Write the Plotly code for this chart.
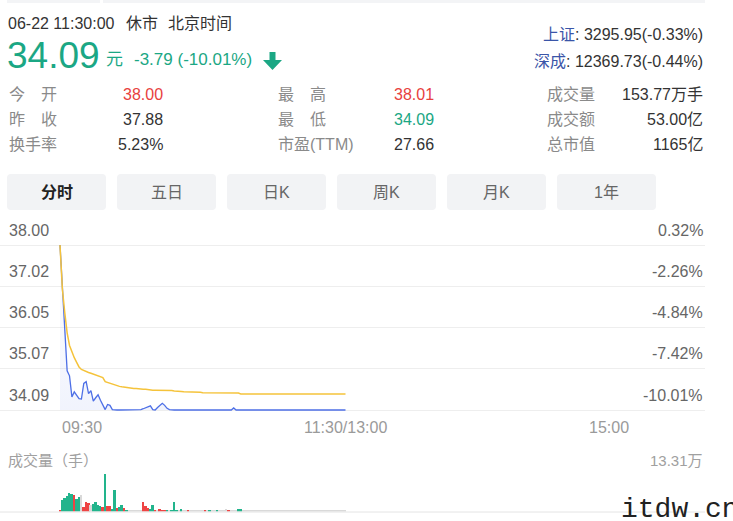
import plotly.graph_objects as go

W, H = 733, 521
def X(px): return px / W
def Y(py): return 1 - py / H

# ---------------- data ----------------
minutes = list(range(121))  # minutes after 09:30 (morning session)

price = [
    38.00, 36.90, 35.80, 35.02, 34.90, 34.40, 34.52, 34.45, 34.36, 34.35,
    34.72, 34.76, 34.48, 34.55, 34.30, 34.38, 34.45, 34.32, 34.22, 34.10,
    34.22, 34.20, 34.10, 34.09, 34.09, 34.09, 34.09, 34.09, 34.09, 34.09,
    34.09, 34.09, 34.09, 34.09, 34.10, 34.12, 34.14, 34.16, 34.19, 34.10,
    34.09, 34.15, 34.20, 34.25, 34.20, 34.13, 34.10, 34.09, 34.09, 34.09,
    34.09, 34.09, 34.09, 34.09, 34.09, 34.09, 34.09, 34.09, 34.09, 34.09,
    34.09, 34.09, 34.09, 34.09, 34.09, 34.09, 34.09, 34.09, 34.09, 34.09,
    34.09, 34.09, 34.09, 34.14, 34.09, 34.09, 34.09, 34.09, 34.09, 34.09,
    34.09, 34.09, 34.09, 34.09, 34.09, 34.09, 34.09, 34.09, 34.09, 34.09,
    34.09, 34.09, 34.09, 34.09, 34.09, 34.09, 34.09, 34.09, 34.09, 34.09,
    34.09, 34.09, 34.09, 34.09, 34.09, 34.09, 34.09, 34.09, 34.09, 34.09,
    34.09, 34.09, 34.09, 34.09, 34.09, 34.09, 34.09, 34.09, 34.09, 34.09,
    34.09,
]

avg_price = [
    38.00, 36.95, 36.40, 35.92, 35.62, 35.45, 35.33, 35.22, 35.11, 35.05,
    35.02, 35.00, 34.98, 34.96, 34.94, 34.92, 34.90, 34.88, 34.86, 34.76,
    34.74, 34.72, 34.70, 34.68, 34.66, 34.65, 34.64, 34.63, 34.62, 34.62,
    34.61, 34.60, 34.60, 34.59, 34.59, 34.58, 34.58, 34.57, 34.57, 34.56,
    34.56, 34.56, 34.56, 34.55, 34.55, 34.55, 34.55, 34.55, 34.54, 34.54,
    34.53, 34.53, 34.52, 34.52, 34.52, 34.52, 34.52, 34.52, 34.52, 34.51,
    34.50, 34.50, 34.50, 34.50, 34.50, 34.50, 34.50, 34.50, 34.50, 34.50,
    34.50, 34.50, 34.50, 34.50, 34.49, 34.49, 34.47, 34.47, 34.47, 34.47,
    34.47, 34.47, 34.47, 34.47, 34.47, 34.47, 34.47, 34.47, 34.47, 34.47,
    34.47, 34.47, 34.47, 34.47, 34.47, 34.47, 34.47, 34.47, 34.47, 34.47,
    34.47, 34.47, 34.47, 34.47, 34.47, 34.47, 34.47, 34.47, 34.47, 34.47,
    34.47, 34.47, 34.47, 34.47, 34.47, 34.47, 34.47, 34.47, 34.47, 34.47,
    34.47,
]

volume = [
    7000, 41000, 47000, 54000, 64000, 62000, 58000, 43000, 53000, 60000,
    17000, 32000, 31000, 24000, 28000, 35000, 22000, 21000, 17000, 133100,
    21000, 20000, 8000, 78000, 11000, 17000, 24000, 12000, 7000, 3000,
    3000, 3000, 3000, 3000, 3000, 32000, 18000, 12000, 10000, 22000,
    6000, 3000, 9000, 7000, 7000, 6000, 3000, 4000, 32000, 6000,
    3000, 8000, 3000, 3000, 7000, 3000, 3000, 3000, 3000, 3000,
    3000, 6000, 3000, 6000, 3000, 3000, 7000, 3000, 3000, 3000,
    10000, 7000, 3000, 3000, 3000, 10000, 8000, 3000, 3000, 3000,
    3000, 3000, 3000, 3000, 3000, 2500, 2500, 2500, 2500, 2500,
    2500, 2500, 2500, 2500, 2500, 2500, 2500, 2500, 2500, 2500,
    2500, 2500, 2500, 2500, 2500, 2500, 2500, 2500, 2500, 2500,
    2500, 2500, 2500, 2500, 2500, 2500, 2500, 2500, 2500, 2500,
    2500,
]

# u = up (red), d = down (green), n = unchanged (grey); one letter per minute
vol_dir_rows = [
    "uddddduddn",  # 0-9
    "uuunddddud",  # 10-19
    "uudduddudn",  # 20-29
    "nnnnnuuudd",  # 30-39
    "unuuudnddd",  # 40-49
    "ndnnunnnnn",  # 50-59
    "nundnndnnn",  # 60-69
    "nunnnddnnn",  # 70-79
    "nnnnnnnnnn",  # 80-89
    "nnnnnnnnnn",  # 90-99
    "nnnnnnnnnn",  # 100-109
    "nnnnnnnnnn",  # 110-119
    "n",           # 120
]
vol_dir = list("".join(vol_dir_rows))

y_ticks = [38.00, 37.02, 36.05, 35.07, 34.09]
y_tick_labels = ["38.00", "37.02", "36.05", "35.07", "34.09"]
pct_labels = ["0.32%", "-2.26%", "-4.84%", "-7.42%", "-10.01%"]
x_tick_vals = [0, 120, 240]
x_tick_labels = ["09:30", "11:30/13:00", "15:00"]
vol_max = 133100
vol_max_label = "13.31万"

header_time = "06-22 11:30:00"
header_status = "休市"
header_zone = "北京时间"
last_price = "34.09"
change_text = "-3.79 (-10.01%)"
index_rows = [("上证", ": 3295.95(-0.33%)"), ("深成", ": 12369.73(-0.44%)")]

stats = [
    [("今　开", "38.00", "red"), ("最　高", "38.01", "red"), ("成交量", "153.77万手", "dark")],
    [("昨　收", "37.88", "dark"), ("最　低", "34.09", "green"), ("成交额", "53.00亿", "dark")],
    [("换手率", "5.23%", "dark"), ("市盈(TTM)", "27.66", "dark"), ("总市值", "1165亿", "dark")],
]
buttons = ["分时", "五日", "日K", "周K", "月K", "1年"]

# ---------------- styles ----------------
FONT = "Liberation Sans, Arial, Noto Sans CJK SC, sans-serif"
GREEN = "#1ba784"
RED = "#e8413e"
DARK = "#333333"
BLUE_LINE = "#4d6fe6"
YELLOW_LINE = "#f5c33b"
VCOL = {"u": "#ee4444", "d": "#22b48c", "n": "#d9d9d9"}
COLMAP = {"red": RED, "green": GREEN, "dark": DARK}

# geometry (pixels)
px_top_grid, px_bot_grid = 245, 410
dom_top, dom_bot = 240, 415
per_px = (y_ticks[0] - y_ticks[-1]) / (px_bot_grid - px_top_grid)
y_range = [y_ticks[-1] - (dom_bot - px_bot_grid) * per_px,
           y_ticks[0] + (px_top_grid - dom_top) * per_px]
x0_px, x_mid_px, x_right_px = 60, 345.5, 705
min_per_px = 120 / (x_mid_px - x0_px)
x_range = [-x0_px * min_per_px, (x_right_px - x0_px) * min_per_px]

fig = go.Figure()

# baseline for gradient fill
fig.add_trace(go.Scatter(x=minutes, y=[y_ticks[-1]] * len(minutes), mode="lines",
                         line=dict(width=0), hoverinfo="skip", xaxis="x", yaxis="y"))
fig.add_trace(go.Scatter(
    x=minutes, y=price, mode="lines", line=dict(color=BLUE_LINE, width=1.3),
    fill="tonexty",
    fillgradient=dict(type="vertical",
                      colorscale=[[0, "rgba(77,111,230,0.08)"], [1, "rgba(77,111,230,0.0)"]]),
    xaxis="x", yaxis="y"))
fig.add_trace(go.Scatter(x=minutes, y=avg_price, mode="lines",
                         line=dict(color=YELLOW_LINE, width=1.5), xaxis="x", yaxis="y"))

fig.add_trace(go.Bar(x=minutes, y=volume,
                     marker=dict(color=[VCOL[d] for d in vol_dir], line=dict(width=0)),
                     width=0.8, xaxis="x2", yaxis="y2"))

shapes = []
annotations = []

def ann(text, x, y, size=16, color=DARK, xanchor="left", yanchor="middle", family=FONT, **kw):
    d = dict(text=text, x=X(x), y=Y(y), xref="paper", yref="paper", showarrow=False,
             xanchor=xanchor, yanchor=yanchor, font=dict(size=size, color=color, family=family))
    d.update(kw)
    annotations.append(d)

def rrect(x0, y0, x1, y1, r):
    pts = [
        ("M", (x0 + r, y0)), ("L", (x1 - r, y0)), ("Q", (x1, y0), (x1, y0 + r)),
        ("L", (x1, y1 - r)), ("Q", (x1, y1), (x1 - r, y1)), ("L", (x0 + r, y1)),
        ("Q", (x0, y1), (x0, y1 - r)), ("L", (x0, y0 + r)), ("Q", (x0, y0), (x0 + r, y0)),
    ]
    s = ""
    for seg in pts:
        s += seg[0] + " " + " ".join(f"{X(p[0]):.5f},{Y(p[1]):.5f}" for p in seg[1:]) + " "
    return s + "Z"

# top bar
shapes.append(dict(type="rect", xref="paper", yref="paper", x0=X(7), x1=X(100), y0=Y(3), y1=Y(0),
                   fillcolor="#f3f4f6", line=dict(width=0), layer="below"))
shapes.append(dict(type="rect", xref="paper", yref="paper", x0=X(103), x1=X(705), y0=Y(3), y1=Y(0),
                   fillcolor="#f3f4f6", line=dict(width=0), layer="below"))

# header
ann(header_time, 6, 24, 16, DARK)
ann(header_status, 124, 24, 16, DARK)
ann(header_zone, 166, 24, 16, DARK)
ann(last_price, 5, 56, 37, GREEN)
ann("元", 104, 60, 17, GREEN)
ann(change_text, 132, 60, 17, GREEN)
# down arrow
ax = [(269.5, 52), (275.5, 52), (275.5, 60), (282, 60), (272.5, 70), (263, 60), (269.5, 60)]
path = "M " + " L ".join(f"{X(a):.5f},{Y(b):.5f}" for a, b in ax) + " Z"
shapes.append(dict(type="path", path=path, xref="paper", yref="paper", fillcolor=GREEN, line=dict(width=0)))

for i, (nm, val) in enumerate(index_rows):
    ann(f"<span style='color:#3a55a8'>{nm}</span>{val}", 705, 35 + 26 * i, 16, DARK, xanchor="right")

# stats table
row_y = [94, 119, 145]
col_label_x = [7, 276, 545]
col_val_x = [165, 436, 705]
for r, row in enumerate(stats):
    for c, (lab, val, col) in enumerate(row):
        ann(lab, col_label_x[c], row_y[r], 16, "#8a8a8a")
        ann(val, col_val_x[c], row_y[r], 16, COLMAP[col], xanchor="right")

# buttons
for i, b in enumerate(buttons):
    bx0 = 7 + i * 110
    bx1 = bx0 + 99
    shapes.append(dict(type="path", path=rrect(bx0, 174, bx1, 210, 4), xref="paper", yref="paper",
                       fillcolor="#f2f3f5", line=dict(width=0), layer="below"))
    if i == 0:
        ann(f"<b>{b}</b>", (bx0 + bx1) / 2, 192, 16, "#222222", xanchor="center")
    else:
        ann(b, (bx0 + bx1) / 2, 192, 16, "#666666", xanchor="center")

# price axis labels
for v, lab, pl in zip(y_ticks, y_tick_labels, pct_labels):
    annotations.append(dict(text=lab, x=X(7), y=v, xref="paper", yref="y", yshift=15, showarrow=False,
                            xanchor="left", yanchor="middle", font=dict(size=16, color="#666666", family=FONT)))
    annotations.append(dict(text=pl, x=X(705), y=v, xref="paper", yref="y", yshift=15, showarrow=False,
                            xanchor="right", yanchor="middle", font=dict(size=16, color="#666666", family=FONT)))
for v, lab, anc in zip(x_tick_vals, x_tick_labels, ["left", "center", "right"]):
    annotations.append(dict(text=lab, x=v, y=Y(427), xref="x", yref="paper", showarrow=False,
                            xanchor=anc, yanchor="middle", font=dict(size=16, color="#9a9a9a", family=FONT)))

# volume labels
ann("成交量（手）", 6, 460, 15, "#a0a0a0")
ann(vol_max_label, 705, 460, 15, "#a0a0a0", xanchor="right")
shapes.append(dict(type="line", xref="paper", yref="paper", x0=X(0), x1=X(705), y0=Y(512), y1=Y(512),
                   line=dict(color="#e4e4e4", width=1)))

# watermark
ann("itdw.cn", 619, 509, 28, "#222222", family="Liberation Mono, DejaVu Sans Mono, monospace")

fig.update_layout(
    width=W, height=H, margin=dict(l=0, r=0, t=0, b=0),
    paper_bgcolor="white", plot_bgcolor="white", showlegend=False,
    font=dict(family=FONT),
    xaxis=dict(domain=[0, X(705)], range=x_range, showgrid=False, zeroline=False,
               showticklabels=False, fixedrange=True),
    yaxis=dict(domain=[Y(dom_bot), Y(dom_top)], range=y_range, tickvals=y_ticks, showgrid=True,
               gridcolor="#eeeeee", gridwidth=1, zeroline=False, showticklabels=False),
    xaxis2=dict(domain=[0, X(705)], range=x_range, matches="x", anchor="y2", showgrid=False,
                zeroline=False, showticklabels=False),
    yaxis2=dict(domain=[Y(511.5), Y(474)], range=[0, vol_max], showgrid=False, zeroline=False,
                showticklabels=False, anchor="x2"),
    shapes=shapes, annotations=annotations, bargap=0,
)

fig.write_html("out.html", config={"displayModeBar": False})
